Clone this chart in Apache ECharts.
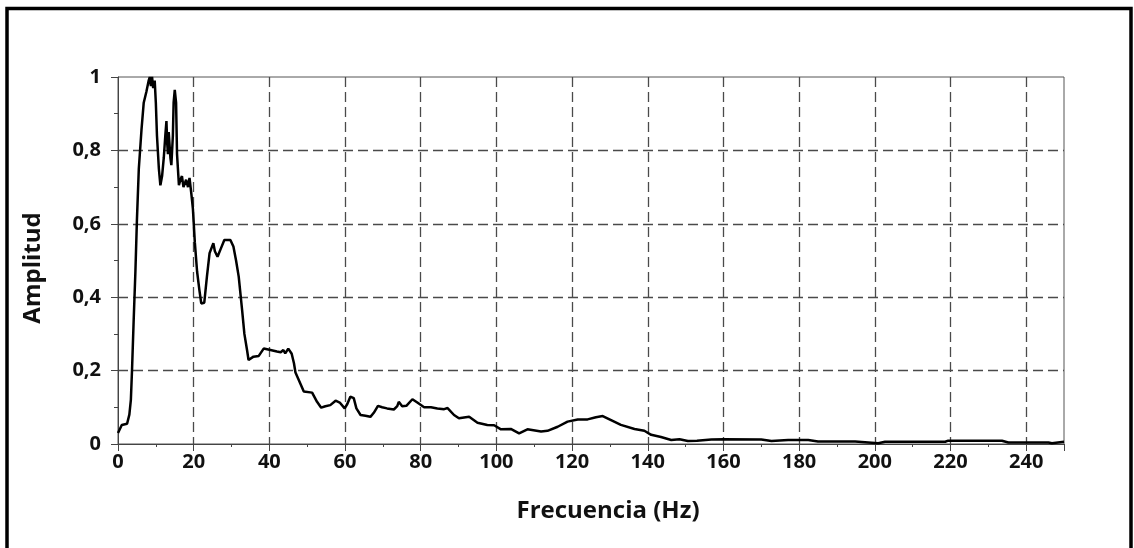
<!DOCTYPE html>
<html>
<head>
<meta charset="utf-8">
<script src="https://cdn.jsdelivr.net/npm/echarts@6/dist/echarts.min.js"></script>
<style>
  html, body { margin: 0; padding: 0; background: #fff; }
  #chart { width: 1134px; height: 548px; }
</style>
</head>
<body>
<div id="chart"></div>
<script>
// Frequency (Hz) and amplitude
const freqHz = [
  0.0, 0.3, 1.0, 2.4, 3.0, 3.4, 3.7, 4.15, 4.6, 5.0, 5.5, 6.2, 6.8, 7.5, 8.1, 8.4, 8.7, 9.0, 9.3, 9.7,
  10.0, 10.3, 10.8, 11.2, 11.65, 12.1, 12.5, 12.8, 13.0, 13.2, 13.4, 13.85, 14.1, 14.5, 14.7, 15.0, 15.35, 15.6,
  16.1, 16.5, 16.9, 17.3, 18.0, 18.5, 18.9, 19.4, 19.8, 20.3, 20.9, 21.5, 22.0, 22.8, 23.5, 24.2, 25.2, 25.6,
  26.3, 27.2, 28.1, 29.7, 30.5, 31.2, 31.9, 32.8, 33.4, 34.1, 34.5, 35.8, 37.2, 38.5, 40.3, 42.0, 43.0, 43.7,
  44.2, 45.0, 45.9, 46.5, 46.9, 47.8, 49.1, 51.3, 52.6, 53.7, 54.8, 56.1, 57.5, 58.6, 59.9, 60.6, 61.4, 62.3,
  63.0, 64.1, 65.4, 66.7, 67.6, 68.7, 69.8, 71.1, 72.9, 73.8, 74.2, 75.1, 76.2, 77.8, 79.1, 80.9, 82.7, 84.4,
  86.2, 87.1, 88.8, 90.1, 92.8, 95.0, 97.6, 99.4, 101.2, 103.8, 106.0, 108.2, 111.8, 113.5, 116.2, 118.8,
  121.5, 124.1, 126.3, 128.1, 130.3, 132.9, 136.5, 139.1, 140.9, 143.5, 146.2, 148.4, 150.6, 153.0, 156.8,
  160.0, 170.0, 172.7, 177.1, 182.4, 185.0, 194.8, 200.9, 202.7, 218.6, 219.4, 229.2, 233.6, 235.3, 245.9,
  246.8, 250.0
];
const amplitude = [
  0.030, 0.035, 0.052, 0.055, 0.080, 0.120, 0.200, 0.340, 0.470, 0.610, 0.750, 0.855, 0.930, 0.960, 0.990, 1.000, 0.975, 1.000, 0.970, 0.990,
  0.930, 0.840, 0.750, 0.705, 0.730, 0.780, 0.840, 0.880, 0.820, 0.790, 0.850, 0.780, 0.760, 0.840, 0.930, 0.965, 0.930, 0.790,
  0.705, 0.720, 0.730, 0.700, 0.720, 0.700, 0.725, 0.680, 0.640, 0.550, 0.470, 0.420, 0.383, 0.385, 0.456, 0.520, 0.547, 0.525,
  0.510, 0.533, 0.556, 0.556, 0.538, 0.500, 0.456, 0.365, 0.300, 0.256, 0.229, 0.238, 0.240, 0.260, 0.256, 0.252, 0.250, 0.256,
  0.247, 0.260, 0.246, 0.220, 0.195, 0.174, 0.143, 0.140, 0.115, 0.099, 0.103, 0.106, 0.118, 0.113, 0.097, 0.109, 0.129, 0.125,
  0.097, 0.079, 0.077, 0.074, 0.085, 0.104, 0.100, 0.097, 0.094, 0.103, 0.115, 0.103, 0.104, 0.122, 0.113, 0.100, 0.100, 0.097,
  0.095, 0.098, 0.079, 0.070, 0.074, 0.058, 0.052, 0.051, 0.040, 0.041, 0.029, 0.040, 0.034, 0.036, 0.047, 0.061,
  0.067, 0.067, 0.073, 0.076, 0.065, 0.052, 0.041, 0.036, 0.025, 0.019, 0.011, 0.013, 0.008, 0.009, 0.012,
  0.013, 0.012, 0.008, 0.011, 0.011, 0.007, 0.007, 0.002, 0.006, 0.006, 0.009, 0.009, 0.009, 0.004, 0.004,
  0.002, 0.006
];
const xTitle = 'Frecuencia (Hz)';
const yTitle = 'Amplitud';

const points = freqHz.map((f, i) => [f, amplitude[i]]);

const chart = echarts.init(document.getElementById('chart'), null, { renderer: 'canvas' });
const FONT = '"Open Sans", "Noto Sans", sans-serif';
const labelStyle = { fontFamily: FONT, fontWeight: 'bold', fontSize: 20, color: '#111' };
const gridDash = { color: '#4a4a4a', width: 1.3, type: [10, 5] };

chart.setOption({
  backgroundColor: '#ffffff',
  animation: false,
  grid: {
    left: 118, right: 70, top: 77, bottom: 104,
    show: true, borderColor: '#555', borderWidth: 1, backgroundColor: 'transparent'
  },
  xAxis: [{
    type: 'value', min: 0, max: 250, interval: 20,
    axisLine: { show: true, onZero: false, lineStyle: { color: '#444', width: 1 } },
    axisTick: { show: true, inside: false, length: 7, lineStyle: { color: '#444' } },
    minorTick: { show: false },
    axisLabel: Object.assign({}, labelStyle, {
      margin: 8,
      formatter: v => (v % 20 === 0 ? String(v) : '')
    }),
    splitLine: { show: true, showMinLine: false, showMaxLine: false, lineStyle: gridDash }
  }, {
    type: 'value', min: 0, max: 250, interval: 10, position: 'bottom',
    axisLine: { show: false, onZero: false },
    axisTick: { show: true, inside: false, length: 3, lineStyle: { color: '#444' } },
    axisLabel: { show: false },
    splitLine: { show: false }
  }],
  yAxis: {
    type: 'value', min: 0, max: 1, interval: 0.2,
    axisLine: { show: true, onZero: false, lineStyle: { color: '#444', width: 1 } },
    axisTick: { show: true, inside: false, length: 7, lineStyle: { color: '#444' } },
    minorTick: { show: true, splitNumber: 2, length: 4, lineStyle: { color: '#444' } },
    axisLabel: Object.assign({}, labelStyle, {
      margin: 17,
      formatter: v => {
        if (Math.abs(v) < 1e-9) return '0';
        if (Math.abs(v - 1) < 1e-9) return '1';
        return v.toFixed(1).replace('.', ',');
      }
    }),
    splitLine: { show: true, showMinLine: false, showMaxLine: false, lineStyle: gridDash }
  },
  series: [{
    type: 'line',
    xAxisIndex: 0,
    data: points,
    showSymbol: false,
    symbol: 'none',
    smooth: false,
    lineStyle: { color: '#000', width: 2.5 },
    itemStyle: { color: '#000' },
    z: 5
  }],
  graphic: [
    {
      type: 'rect', silent: true, z: 100,
      shape: { x: 7, y: 8.5, width: 1124, height: 600 },
      style: { fill: 'none', stroke: '#000', lineWidth: 3.5 }
    },
    {
      type: 'text', silent: true, z: 100,
      x: 33, y: 268, rotation: Math.PI / 2,
      style: { text: yTitle, fontFamily: FONT, fontWeight: 'bold', fontSize: 24,
        fill: '#111', align: 'center', verticalAlign: 'middle' }
    },
    {
      type: 'text', silent: true, z: 100,
      x: 608, y: 511,
      style: { text: xTitle, fontFamily: FONT, fontWeight: 'bold', fontSize: 24,
        fill: '#111', align: 'center', verticalAlign: 'middle' }
    }
  ]
});
</script>
</body>
</html>
